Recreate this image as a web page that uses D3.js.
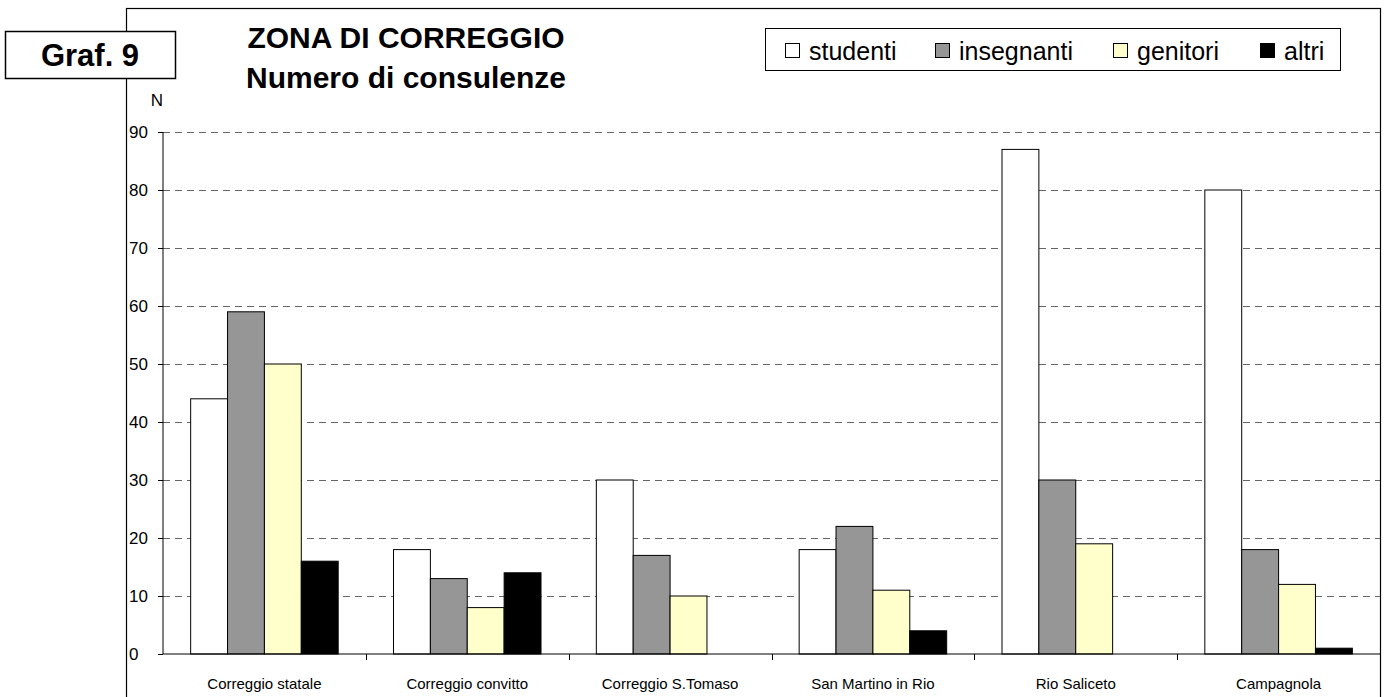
<!DOCTYPE html>
<html>
<head>
<meta charset="utf-8">
<script src="https://cdn.jsdelivr.net/npm/d3@7"></script>
<style>
  body { margin: 0; background: #fff; }
  text { font-family: Arial, "Liberation Sans", sans-serif; }
</style>
</head>
<body>
<div id="chart"></div>
<script>
var categories = ['Correggio statale', 'Correggio convitto', 'Correggio S.Tomaso',
                  'San Martino in Rio', 'Rio Saliceto', 'Campagnola'];
var seriesNames = ['studenti', 'insegnanti', 'genitori', 'altri'];
var studenti   = [44, 18, 30, 18, 87, 80];
var insegnanti = [59, 13, 17, 22, 30, 18];
var genitori   = [50,  8, 10, 11, 19, 12];
var altri      = [16, 14,  0,  4,  0,  1];
var yTicks = [0, 10, 20, 30, 40, 50, 60, 70, 80, 90];

var seriesValues = [studenti, insegnanti, genitori, altri];
var colors = ['#ffffff', '#969696', '#ffffcc', '#000000'];

var width = 1390,
    height = 697,
    plotLeft = 163,
    plotRight = 1380,
    plotTop = 132,
    plotBottom = 654;

var svg = d3.select('#chart').append('svg')
  .attr('width', width)
  .attr('height', height);

// outer frame
svg.append('rect')
  .attr('x', 126.5).attr('y', 8.5)
  .attr('width', 1254).attr('height', 720)
  .attr('fill', 'none').attr('stroke', '#000').attr('stroke-width', 1.2);

var yScale = d3.scaleLinear()
  .domain([0, 90])
  .range([plotBottom, plotTop]);

var xScale = d3.scaleBand()
  .domain(categories)
  .range([plotLeft, plotRight]);

// 4 bars plus a 150% gap in each category
var inner = d3.scaleBand()
  .domain(seriesNames)
  .range([0, xScale.bandwidth()])
  .paddingInner(0)
  .paddingOuter(0.75);

// gridlines
svg.append('g').selectAll('line')
  .data(yTicks.filter(function(d) { return d > 0; }))
  .enter().append('line')
    .attr('x1', plotLeft).attr('x2', plotRight)
    .attr('y1', function(d) { return Math.round(yScale(d)) + 0.5; })
    .attr('y2', function(d) { return Math.round(yScale(d)) + 0.5; })
    .attr('stroke', '#666')
    .attr('stroke-dasharray', '7,5');

// bars
var groups = svg.append('g').selectAll('g')
  .data(categories)
  .enter().append('g')
    .attr('transform', function(d) { return 'translate(' + xScale(d) + ',0)'; });

groups.selectAll('rect')
  .data(function(d, i) {
    return seriesNames.map(function(s, j) {
      return { series: s, value: seriesValues[j][i], color: colors[j] };
    }).filter(function(d) { return d.value > 0; });
  })
  .enter().append('rect')
    .attr('x', function(d) { return inner(d.series); })
    .attr('y', function(d) { return yScale(d.value); })
    .attr('width', inner.bandwidth())
    .attr('height', function(d) { return plotBottom - yScale(d.value); })
    .attr('fill', function(d) { return d.color; })
    .attr('stroke', '#000')
    .attr('stroke-width', 1);

// y axis
var yAxis = d3.axisLeft(yScale)
  .tickValues(yTicks)
  .tickSize(5);

var yGuide = svg.append('g')
  .attr('transform', 'translate(' + plotLeft + ',0)')
  .call(yAxis);
yGuide.selectAll('text')
  .style('font-size', '17px').attr('fill', '#000')
  .attr('text-anchor', 'start').attr('x', -34);
yGuide.selectAll('path, line').attr('stroke', '#000');
yGuide.select('path').attr('d', 'M0,' + plotBottom + 'V' + plotTop);

// x axis
var xAxis = d3.axisBottom(xScale)
  .tickSize(0)
  .tickPadding(24);

var xGuide = svg.append('g')
  .attr('transform', 'translate(0,' + plotBottom + ')')
  .call(xAxis);
xGuide.selectAll('text').style('font-size', '15px').attr('fill', '#000');
xGuide.select('path').attr('d', 'M' + plotLeft + ',0H' + plotRight).attr('stroke', '#000');

// category separators
xGuide.append('g').selectAll('line')
  .data(categories.slice(1))
  .enter().append('line')
    .attr('x1', function(d) { return Math.round(xScale(d)) + 0.5; })
    .attr('x2', function(d) { return Math.round(xScale(d)) + 0.5; })
    .attr('y1', 0).attr('y2', 6)
    .attr('stroke', '#000');

// N label
svg.append('text')
  .attr('x', 157).attr('y', 106)
  .attr('text-anchor', 'middle')
  .style('font-size', '17px')
  .text('N');

// title
svg.append('text')
  .attr('x', 406).attr('y', 48)
  .attr('text-anchor', 'middle')
  .style('font-size', '30px').style('font-weight', 'bold')
  .text('ZONA DI CORREGGIO');
svg.append('text')
  .attr('x', 406).attr('y', 88)
  .attr('text-anchor', 'middle')
  .style('font-size', '30px').style('font-weight', 'bold')
  .text('Numero di consulenze');

// Graf. 9 box
svg.append('rect')
  .attr('x', 5.5).attr('y', 31.5)
  .attr('width', 170).attr('height', 47)
  .attr('fill', '#fff').attr('stroke', '#000').attr('stroke-width', 1.5);
svg.append('text')
  .attr('x', 90).attr('y', 66)
  .attr('text-anchor', 'middle')
  .style('font-size', '31px').style('font-weight', 'bold')
  .text('Graf. 9');

// legend
svg.append('rect')
  .attr('x', 765.5).attr('y', 28.5)
  .attr('width', 575).attr('height', 42)
  .attr('fill', '#fff').attr('stroke', '#000');

var legendX = [785, 935, 1113, 1260];
var legend = svg.append('g').selectAll('g')
  .data(seriesNames)
  .enter().append('g')
    .attr('transform', function(d, i) { return 'translate(' + legendX[i] + ',43)'; });
legend.append('rect')
  .attr('x', 0.5).attr('y', 0.5)
  .attr('width', 14).attr('height', 14)
  .attr('fill', function(d, i) { return colors[i]; })
  .attr('stroke', '#000');
legend.append('text')
  .attr('x', 24).attr('y', 17)
  .style('font-size', '25px')
  .text(function(d) { return d; });
</script>
</body>
</html>
